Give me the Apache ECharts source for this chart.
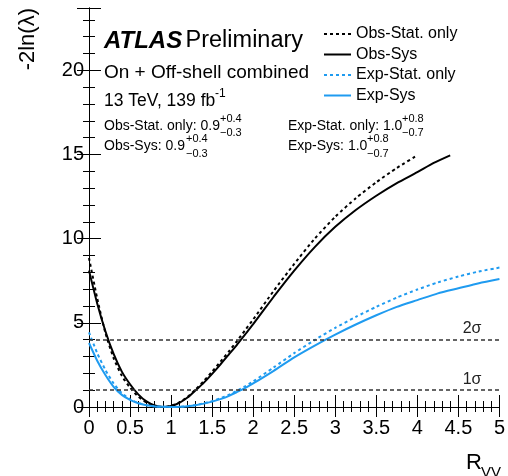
<!DOCTYPE html>
<html>
<head>
<meta charset="utf-8">
<script src="https://cdn.jsdelivr.net/npm/echarts@6/dist/echarts.min.js"></script>
<style>
  html, body { margin: 0; padding: 0; background: #fff; }
  #chart { width: 508px; height: 476px; }
</style>
</head>
<body>
<div id="chart"></div>
<script>
/* -2ln(lambda) scan vs R_VV */

// x grids
var rObs = [0, 0.1, 0.2, 0.3, 0.4, 0.5, 0.6, 0.7, 0.8, 0.9, 1.0, 1.1, 1.2, 1.3, 1.4, 1.5, 1.6, 1.7, 1.8, 1.9, 2.0,
    2.25, 2.5, 2.75, 3.0, 3.25, 3.5, 3.75, 4.0, 4.2, 4.4];
var rExp = [0, 0.1, 0.2, 0.3, 0.4, 0.5, 0.6, 0.7, 0.8, 0.9, 1.0, 1.1, 1.2, 1.3, 1.4, 1.5, 1.6, 1.7, 1.8, 1.9, 2.0,
    2.25, 2.5, 2.75, 3.0, 3.25, 3.5, 3.75, 4.0, 4.25, 4.5, 4.75, 5.0];

// curves
var obsStat = [8.85, 6.45, 4.4, 2.9, 1.85, 1.15, 0.62, 0.27, 0.07, 0, 0.07, 0.27, 0.6, 1.05, 1.55, 2.1, 2.68, 3.28, 3.9, 4.55, 5.2,
    6.9, 8.5, 10.0, 11.3, 12.4, 13.35, 14.2, 14.95];
var obsSys = [8.1, 6.15, 4.5, 3.15, 2.1, 1.35, 0.75, 0.33, 0.09, 0, 0.06, 0.25, 0.56, 1.0, 1.45, 1.97, 2.52, 3.1, 3.68, 4.3, 4.92,
    6.55, 8.1, 9.5, 10.7, 11.7, 12.55, 13.3, 13.95, 14.5, 14.95];
var expStat = [4.43, 3.2, 2.2, 1.4, 0.82, 0.46, 0.24, 0.11, 0.04, 0.01, 0, 0.01, 0.05, 0.12, 0.22, 0.35, 0.52, 0.72, 0.96, 1.22, 1.52,
    2.35, 3.2, 3.98, 4.7, 5.35, 5.95, 6.5, 6.98, 7.4, 7.75, 8.05, 8.28];
var expSys = [3.8, 2.75, 1.9, 1.2, 0.72, 0.42, 0.22, 0.1, 0.035, 0.008, 0, 0.01, 0.05, 0.11, 0.2, 0.32, 0.47, 0.65, 0.88, 1.12, 1.4,
    2.15, 2.95, 3.65, 4.3, 4.9, 5.45, 5.95, 6.35, 6.75, 7.05, 7.35, 7.6];

var seriesNames = ['Obs-Stat. only', 'Obs-Sys', 'Exp-Stat. only', 'Exp-Sys'];
var sigmaLevels = [4, 1];
var sigmaLabels = ['2σ', '1σ'];

var FONT = 'Liberation Sans';
var BLUE = '#1f9bf0';

function pairs(xs, ys) {
    var out = [];
    for (var i = 0; i < ys.length; i++) {
        out.push([xs[i], ys[i]]);
    }
    return out;
}

function lineSeries(name, xs, ys, color, dashed) {
    return {
        name: name,
        type: 'line',
        data: pairs(xs, ys),
        showSymbol: false,
        symbol: 'none',
        smooth: 0.2,
        silent: true,
        lineStyle: { color: color, width: 2, type: dashed ? [3, 3] : 'solid' },
        itemStyle: { color: color }
    };
}

var chart = echarts.init(document.getElementById('chart'), null, { renderer: 'canvas' });

var tickInside = { show: true, inside: true, length: 12, lineStyle: { color: '#000', width: 1 } };
var minorInside = { show: true, inside: true, length: 6, splitNumber: 5, lineStyle: { color: '#000', width: 1 } };

var series = [
    lineSeries(seriesNames[0], rObs, obsStat, '#000', true),
    lineSeries(seriesNames[1], rObs, obsSys, '#000', false),
    lineSeries(seriesNames[2], rExp, expStat, BLUE, true),
    lineSeries(seriesNames[3], rExp, expSys, BLUE, false)
];

series[3].markLine = {
    silent: true,
    symbol: 'none',
    lineStyle: { color: '#333', width: 1.5, type: [4, 3] },
    label: {
        position: 'insideEndTop',
        distance: [18, 3],
        color: '#222',
        fontFamily: FONT,
        fontSize: 16,
        formatter: function (p) { return p.name; }
    },
    data: sigmaLevels.map(function (v, i) { return { yAxis: v, name: sigmaLabels[i] }; })
};

var option = {
    animation: false,
    backgroundColor: '#fff',
    grid: { left: 89, right: 6, top: 8, bottom: 69, containLabel: false },
    legend: {
        data: seriesNames,
        orient: 'vertical',
        left: 323,
        top: 26,
        padding: 0,
        itemWidth: 27,
        itemHeight: 14,
        itemGap: 4.5,
        itemStyle: { opacity: 0, borderWidth: 0 },
        textStyle: { fontFamily: FONT, fontSize: 16, color: '#000', padding: [0, 0, 0, 0] },
        selectedMode: false
    },
    xAxis: [{
        type: 'value',
        min: 0, max: 5, interval: 0.5,
        axisLine: { lineStyle: { color: '#000', width: 1 } },
        axisTick: tickInside,
        minorTick: minorInside,
        splitLine: { show: false },
        axisLabel: { fontFamily: FONT, fontSize: 20, color: '#000', margin: 11 }
    }, {
        type: 'value',
        position: 'top',
        min: 0, max: 5, interval: 0.5,
        axisLine: { lineStyle: { color: '#000', width: 1 } },
        axisTick: { show: true, inside: true, length: 10, lineStyle: { color: '#000' } },
        minorTick: { show: true, inside: true, length: 5, splitNumber: 5, lineStyle: { color: '#000' } },
        splitLine: { show: false },
        axisLabel: { show: false }
    }],
    yAxis: [{
        type: 'value',
        min: 0, max: 23.7, interval: 5,
        axisLine: { lineStyle: { color: '#000', width: 1 } },
        axisTick: tickInside,
        minorTick: minorInside,
        splitLine: { show: false },
        axisLabel: {
            fontFamily: FONT, fontSize: 20, color: '#000', margin: 5,
            formatter: function (v) { return v % 5 === 0 ? String(v) : ''; }
        }
    }, {
        type: 'value',
        position: 'right',
        min: 0, max: 23.7, interval: 5,
        axisLine: { lineStyle: { color: '#000', width: 1 } },
        axisTick: tickInside,
        minorTick: minorInside,
        splitLine: { show: false },
        axisLabel: { show: false }
    }],
    series: series,
    graphic: [
        // axis titles
        {
            type: 'text', x: 28, y: 8, rotation: Math.PI / 2,
            style: { text: '-2ln(λ)', font: '22px "Liberation Sans"', fill: '#000', align: 'right', verticalAlign: 'middle' }
        },
        {
            type: 'text', x: 482, y: 463,
            style: { text: 'R', font: '22px "Liberation Sans"', fill: '#000', align: 'right', verticalAlign: 'middle' }
        },
        {
            type: 'text', x: 481, y: 473,
            style: { text: 'VV', font: '15px "Liberation Sans"', fill: '#000', align: 'left', verticalAlign: 'middle' }
        },
        // ATLAS label
        {
            type: 'text', x: 104, y: 41,
            style: {
                text: '{b|ATLAS} {n|Preliminary}',
                verticalAlign: 'middle',
                rich: {
                    b: { fontFamily: FONT, fontSize: 24, fontWeight: 'bold', fontStyle: 'italic', fill: '#000' },
                    n: { fontFamily: FONT, fontSize: 23.5, fill: '#000' }
                }
            }
        },
        {
            type: 'text', x: 104, y: 73,
            style: { text: 'On + Off-shell combined', font: '19px "Liberation Sans"', fill: '#000', verticalAlign: 'middle' }
        },
        {
            type: 'text', x: 104, y: 101,
            style: { text: '13 TeV, 139 fb', font: '17.5px "Liberation Sans"', fill: '#000', verticalAlign: 'middle' }
        },
        {
            type: 'text', x: 215, y: 94,
            style: { text: '-1', font: '12px "Liberation Sans"', fill: '#000', verticalAlign: 'middle' }
        },
        // results
        { type: 'text', x: 104, y: 126, style: { text: 'Obs-Stat. only: 0.9', font: '14px "Liberation Sans"', fill: '#000', verticalAlign: 'middle' } },
        { type: 'text', x: 220, y: 119, style: { text: '+0.4', font: '11px "Liberation Sans"', fill: '#000', verticalAlign: 'middle' } },
        { type: 'text', x: 220, y: 133, style: { text: '\u22120.3', font: '11px "Liberation Sans"', fill: '#000', verticalAlign: 'middle' } },
        { type: 'text', x: 104, y: 146, style: { text: 'Obs-Sys: 0.9', font: '14px "Liberation Sans"', fill: '#000', verticalAlign: 'middle' } },
        { type: 'text', x: 186, y: 139, style: { text: '+0.4', font: '11px "Liberation Sans"', fill: '#000', verticalAlign: 'middle' } },
        { type: 'text', x: 186, y: 154, style: { text: '\u22120.3', font: '11px "Liberation Sans"', fill: '#000', verticalAlign: 'middle' } },
        { type: 'text', x: 288, y: 126, style: { text: 'Exp-Stat. only: 1.0', font: '14px "Liberation Sans"', fill: '#000', verticalAlign: 'middle' } },
        { type: 'text', x: 402, y: 119, style: { text: '+0.8', font: '11px "Liberation Sans"', fill: '#000', verticalAlign: 'middle' } },
        { type: 'text', x: 402, y: 133, style: { text: '\u22120.7', font: '11px "Liberation Sans"', fill: '#000', verticalAlign: 'middle' } },
        { type: 'text', x: 288, y: 146, style: { text: 'Exp-Sys: 1.0', font: '14px "Liberation Sans"', fill: '#000', verticalAlign: 'middle' } },
        { type: 'text', x: 367, y: 139, style: { text: '+0.8', font: '11px "Liberation Sans"', fill: '#000', verticalAlign: 'middle' } },
        { type: 'text', x: 367, y: 154, style: { text: '\u22120.7', font: '11px "Liberation Sans"', fill: '#000', verticalAlign: 'middle' } }
    ]
};

chart.setOption(option);
</script>
</body>
</html>
